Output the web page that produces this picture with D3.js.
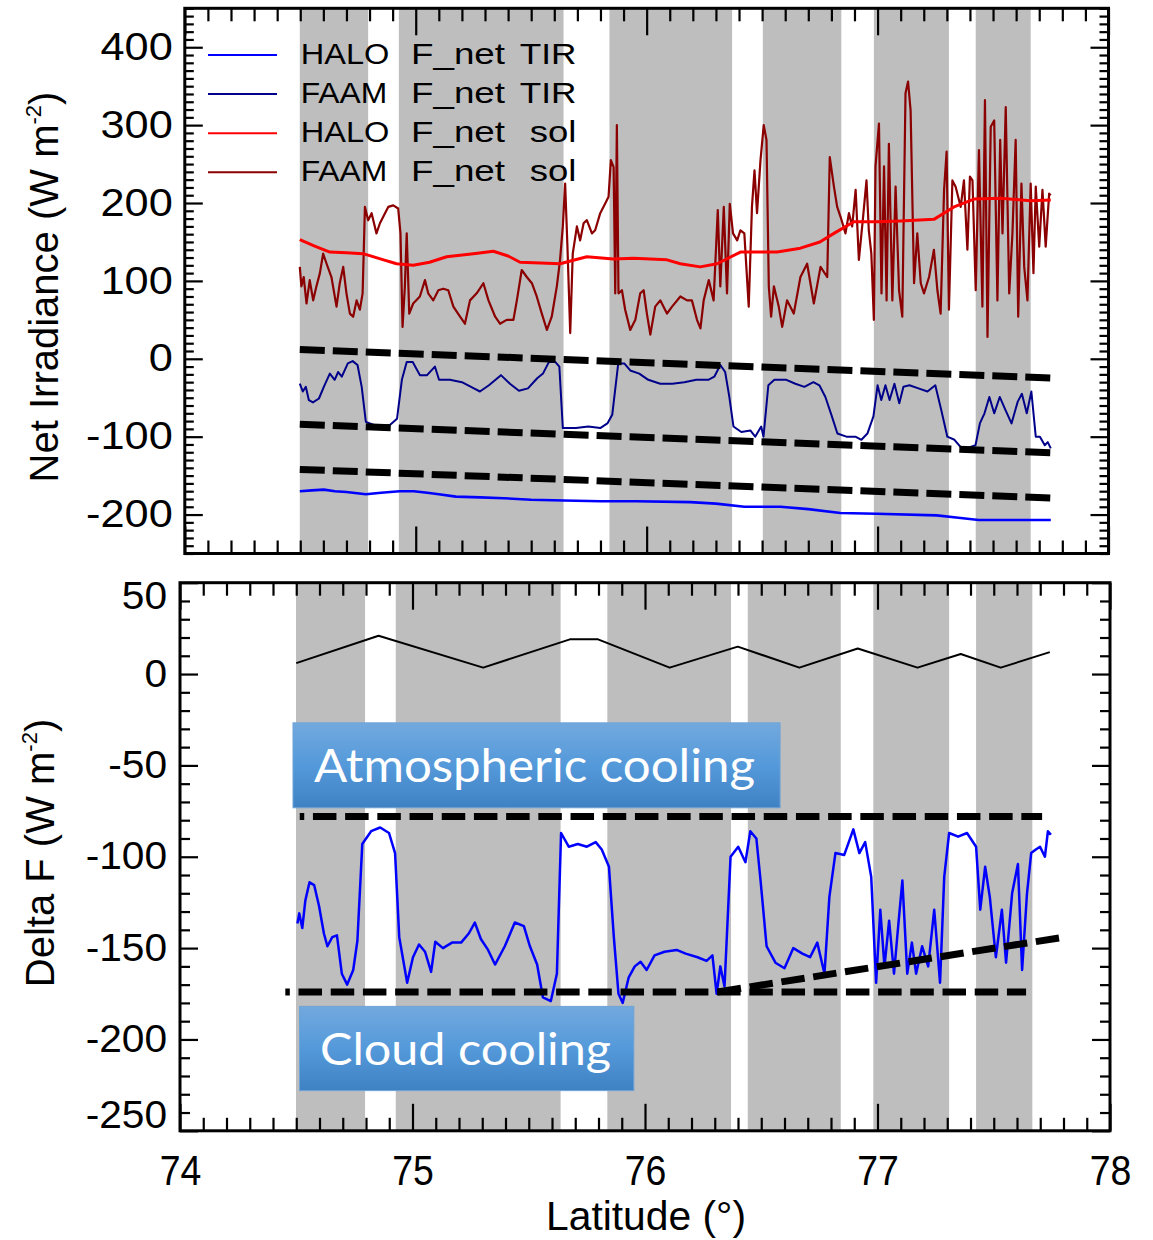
<!DOCTYPE html>
<html><head><meta charset="utf-8">
<script src="https://cdn.jsdelivr.net/npm/d3@7"></script>
<style>body{margin:0;background:#fff}svg{display:block}</style>
</head><body>
<svg id="chart" width="1153" height="1240"></svg>
<script>
// ---------------- DATA ----------------
const xTickLabels = [74, 75, 76, 77, 78];
const topYTickLabels = [-200, -100, 0, 100, 200, 300, 400];
const botYTickLabels = [-250, -200, -150, -100, -50, 0, 50];
const legendLabels = ["HALO F_net TIR", "FAAM F_net TIR", "HALO F_net sol", "FAAM F_net sol"];

// latitude ranges of grey (cloud) bands
const topBands = [[74.498,74.794],[74.927,75.640],[75.839,76.370],[76.503,76.843],[76.984,77.309],[77.425,77.663]];
const botBands = [[74.499,74.796],[74.928,75.637],[75.838,76.370],[76.442,76.842],[76.982,77.308],[77.424,77.666]];

// [latitude, W m-2]
const haloTIR = [[74.498,-170],[74.550,-169],[74.602,-168],[74.650,-170],[74.700,-171],[74.784,-174],[74.850,-172],[74.930,-170],[74.992,-170],[75.050,-172],[75.100,-174],[75.174,-177],[75.280,-178],[75.382,-179],[75.500,-181],[75.642,-182],[75.800,-183],[75.955,-183],[76.189,-184],[76.300,-186],[76.423,-190],[76.579,-190],[76.700,-193],[76.839,-198],[76.996,-199],[77.256,-201],[77.350,-204],[77.438,-207],[77.600,-207],[77.750,-207]];

const faamTIR = [[74.498,-32],[74.511,-42],[74.524,-36],[74.537,-53],[74.555,-56],[74.581,-51],[74.602,-36],[74.628,-19],[74.649,-27],[74.664,-17],[74.680,-23],[74.706,-6],[74.727,-3],[74.748,-8],[74.766,-36],[74.784,-81],[74.836,-87],[74.888,-85],[74.919,-77],[74.940,-27],[74.961,-4],[74.987,-4],[75.018,-21],[75.049,-21],[75.083,-10],[75.101,-27],[75.148,-27],[75.200,-30],[75.252,-38],[75.278,-42],[75.317,-34],[75.369,-21],[75.408,-32],[75.447,-41],[75.486,-38],[75.526,-25],[75.551,-19],[75.577,-4],[75.604,-4],[75.622,-10],[75.637,-89],[75.694,-89],[75.747,-87],[75.799,-89],[75.830,-83],[75.851,-72],[75.877,-6],[75.903,-6],[75.929,-15],[75.968,-19],[76.007,-27],[76.059,-32],[76.111,-32],[76.163,-30],[76.215,-27],[76.267,-27],[76.293,-23],[76.319,-8],[76.340,-17],[76.358,-49],[76.376,-87],[76.410,-94],[76.449,-92],[76.470,-100],[76.496,-87],[76.506,-100],[76.527,-34],[76.553,-27],[76.605,-27],[76.644,-32],[76.683,-36],[76.722,-30],[76.748,-34],[76.774,-49],[76.800,-72],[76.826,-96],[76.865,-100],[76.904,-100],[76.930,-104],[76.956,-96],[76.982,-74],[77.000,-34],[77.016,-53],[77.034,-34],[77.052,-53],[77.073,-32],[77.094,-57],[77.112,-36],[77.138,-34],[77.177,-38],[77.216,-42],[77.250,-34],[77.276,-66],[77.302,-100],[77.333,-104],[77.359,-113],[77.385,-115],[77.424,-111],[77.443,-83],[77.463,-70],[77.484,-49],[77.505,-70],[77.529,-49],[77.554,-66],[77.580,-83],[77.607,-55],[77.625,-45],[77.646,-70],[77.666,-42],[77.685,-100],[77.703,-100],[77.724,-111],[77.737,-107],[77.750,-115]];

const haloSol = [[74.498,153],[74.560,145],[74.628,137],[74.700,136],[74.772,135],[74.850,128],[74.917,122],[74.989,120],[75.060,124],[75.134,131],[75.250,135],[75.336,138],[75.400,132],[75.452,124],[75.540,123],[75.625,122],[75.741,131],[75.856,128],[75.943,129],[76.088,127],[76.146,122],[76.232,118],[76.305,122],[76.406,137],[76.565,137],[76.666,142],[76.750,150],[76.811,161],[76.897,176],[77.000,176],[77.100,177],[77.244,179],[77.331,195],[77.418,205],[77.533,206],[77.663,203],[77.750,204]];

const faamSol = [[74.498,118],[74.505,93],[74.515,105],[74.527,71],[74.541,101],[74.556,75],[74.570,93],[74.585,110],[74.599,135],[74.614,122],[74.635,105],[74.657,67],[74.671,97],[74.686,118],[74.700,84],[74.715,58],[74.729,54],[74.744,75],[74.758,63],[74.770,84],[74.780,195],[74.794,178],[74.809,187],[74.830,161],[74.845,174],[74.867,187],[74.881,195],[74.903,197],[74.924,193],[74.934,161],[74.943,41],[74.953,93],[74.961,161],[74.972,58],[74.989,71],[75.018,80],[75.040,101],[75.054,84],[75.076,75],[75.098,88],[75.119,90],[75.141,88],[75.163,67],[75.192,54],[75.213,45],[75.235,75],[75.264,84],[75.293,97],[75.315,75],[75.344,54],[75.365,45],[75.394,50],[75.423,50],[75.438,75],[75.459,114],[75.481,105],[75.503,97],[75.524,80],[75.546,58],[75.568,37],[75.589,54],[75.611,93],[75.625,127],[75.637,170],[75.647,225],[75.657,144],[75.669,33],[75.680,135],[75.698,170],[75.712,152],[75.727,174],[75.741,178],[75.763,161],[75.777,165],[75.799,187],[75.820,199],[75.835,208],[75.845,255],[75.857,246],[75.864,84],[75.871,300],[75.878,84],[75.893,88],[75.907,63],[75.929,37],[75.951,50],[75.972,84],[75.987,88],[76.001,58],[76.016,31],[76.037,67],[76.059,75],[76.088,58],[76.110,67],[76.146,80],[76.175,75],[76.196,75],[76.218,50],[76.233,39],[76.247,75],[76.269,101],[76.290,75],[76.308,191],[76.319,93],[76.334,195],[76.348,84],[76.360,199],[76.374,161],[76.392,152],[76.406,165],[76.423,161],[76.442,67],[76.456,195],[76.467,242],[76.478,187],[76.493,255],[76.507,300],[76.519,281],[76.529,93],[76.539,54],[76.551,93],[76.572,67],[76.587,41],[76.608,75],[76.637,58],[76.666,105],[76.695,122],[76.724,71],[76.753,118],[76.782,105],[76.793,259],[76.811,221],[76.825,195],[76.840,182],[76.861,161],[76.876,187],[76.890,170],[76.905,217],[76.919,127],[76.936,178],[76.952,229],[76.962,165],[76.973,135],[76.984,50],[76.991,247],[77.006,302],[77.017,84],[77.028,247],[77.039,75],[77.049,276],[77.064,75],[77.078,221],[77.093,88],[77.107,54],[77.121,341],[77.132,356],[77.143,319],[77.158,97],[77.172,161],[77.187,97],[77.201,84],[77.223,105],[77.244,140],[77.259,88],[77.273,58],[77.288,217],[77.299,266],[77.309,63],[77.324,229],[77.338,221],[77.360,195],[77.374,229],[77.389,140],[77.400,234],[77.411,229],[77.425,88],[77.439,268],[77.454,67],[77.465,332],[77.476,28],[77.490,298],[77.505,306],[77.519,75],[77.531,281],[77.541,161],[77.555,323],[77.570,84],[77.584,161],[77.598,281],[77.609,54],[77.623,225],[77.635,118],[77.649,75],[77.663,225],[77.675,110],[77.685,221],[77.700,144],[77.714,217],[77.728,144],[77.743,212],[77.750,210]];

// sloping reference lines in the upper panel [[lat, W m-2],[lat, W m-2]]
const topRefLines = [[[74.498,12],[77.776,-25]], [[74.498,-84],[77.776,-121]], [[74.498,-142],[77.776,-179]]];

// lower panel
const deltaModel = [[74.500,6],[74.854,21],[75.304,3.5],[75.677,19],[75.798,19],[76.106,3.5],[76.399,15],[76.664,3.5],[76.915,14],[77.172,3.5],[77.358,11],[77.530,3.5],[77.741,12]];

const deltaF = [[74.505,-136.5],[74.513,-131],[74.526,-139],[74.539,-124],[74.557,-114],[74.577,-115.5],[74.598,-127],[74.619,-142],[74.634,-149],[74.655,-144],[74.675,-143],[74.696,-164],[74.719,-170],[74.745,-162],[74.763,-146],[74.784,-93],[74.822,-86],[74.861,-84],[74.899,-87],[74.925,-98],[74.943,-144],[74.977,-169],[75.002,-155],[75.028,-148],[75.054,-152],[75.080,-163],[75.098,-146.5],[75.131,-150],[75.170,-147],[75.209,-147],[75.242,-142],[75.268,-136],[75.294,-145],[75.325,-151],[75.355,-159],[75.397,-149],[75.440,-136],[75.479,-138],[75.505,-149],[75.536,-159],[75.561,-177],[75.595,-179],[75.621,-164],[75.639,-87],[75.672,-94.5],[75.711,-93],[75.750,-94.5],[75.788,-92],[75.814,-96],[75.845,-105.5],[75.866,-144],[75.886,-175],[75.904,-180],[75.930,-166],[75.956,-160],[75.981,-157.5],[76.007,-162],[76.041,-154],[76.084,-152],[76.136,-151],[76.175,-153],[76.226,-155],[76.265,-157],[76.290,-154],[76.308,-175],[76.324,-160],[76.342,-171],[76.368,-100],[76.401,-94.5],[76.432,-103],[76.453,-86],[76.479,-90],[76.497,-113],[76.523,-149],[76.561,-158],[76.600,-161],[76.638,-150],[76.677,-153],[76.710,-155],[76.741,-147],[76.772,-164],[76.793,-122],[76.819,-98],[76.857,-99],[76.896,-85],[76.922,-98],[76.947,-92],[76.973,-111],[76.994,-169],[77.012,-129],[77.030,-160],[77.050,-135],[77.071,-164],[77.089,-138],[77.107,-113],[77.128,-164],[77.148,-147],[77.166,-164],[77.192,-149],[77.218,-160],[77.244,-129],[77.269,-169],[77.287,-111],[77.308,-87],[77.347,-89],[77.385,-87],[77.424,-94.5],[77.442,-129],[77.463,-105.5],[77.483,-122],[77.509,-155],[77.535,-129],[77.553,-158],[77.579,-120],[77.604,-104],[77.622,-162],[77.643,-120],[77.661,-98],[77.681,-96],[77.699,-94.5],[77.720,-100],[77.733,-86],[77.746,-88]];

const botRefLines = [[[74.515,-78],[77.708,-78]], [[74.453,-174],[77.639,-174]], [[76.313,-174],[77.802,-144]]];

const annotations = [
  {text: "Atmospheric cooling", lat0: 74.486, lat1: 76.581, v0: -26.7, v1: -73.2},
  {text: "Cloud cooling", lat0: 74.514, lat1: 75.952, v0: -181.9, v1: -228.0}
];

// ---------------- STYLE / LAYOUT ----------------
const FONT = "'Liberation Sans', Arial, Helvetica, sans-serif";
const seriesColors = ["#0000ff", "#00008b", "#ff0000", "#8b0000"];
const GREY = "#bebebe";

const svg = d3.select("#chart");

const xTop = d3.scaleLinear().domain([74, 78]).range([184.8, 1108.5]);
const yTop = d3.scaleLinear().domain([-250, 450]).range([553.5, 8.3]);
const xBot = d3.scaleLinear().domain([74, 78]).range([180, 1110]);
const yBot = d3.scaleLinear().domain([-250, 50]).range([1130.8, 582.7]);

function stretch(sel, f) {
  sel.each(function () {
    const w = this.getComputedTextLength();
    this.setAttribute("textLength", w * f);
    this.setAttribute("lengthAdjust", "spacingAndGlyphs");
  });
}

function bands(g, x, y, data) {
  g.append("g").selectAll("rect").data(data).join("rect")
    .attr("x", d => x(d[0])).attr("width", d => x(d[1]) - x(d[0]))
    .attr("y", y.range()[1]).attr("height", y.range()[0] - y.range()[1])
    .attr("fill", GREY);
}

function line(g, x, y, data, color, width, extra) {
  const p = g.append("path").datum(data)
    .attr("d", d3.line().x(d => x(d[0])).y(d => y(d[1])))
    .attr("fill", "none").attr("stroke", color).attr("stroke-width", width)
    .attr("stroke-linejoin", "round");
  if (extra) extra(p);
  return p;
}

const plainFmt = d => String(d);  // ASCII hyphen-minus like the original

function axes(g, x, y, o) {
  const [x0, x1] = x.range();
  const [yb, yt] = y.range();
  const xMinor = x.ticks(40).filter(v => Math.abs(v - Math.round(v)) > 1e-6);
  const yMinor = y.ticks(o.yMinorCount).filter(v => !o.yMajor.includes(v));
  const add = (tr, ax) => {
    const a = g.append("g").attr("transform", tr).call(ax);
    a.select(".domain").remove();
    a.selectAll("line").attr("stroke-width", 2.2);
    return a;
  };
  add(`translate(0,${yb})`, d3.axisBottom(x).tickValues(xMinor).tickSize(-13).tickFormat(""));
  const bx = add(`translate(0,${yb})`, d3.axisBottom(x).tickValues(xTickLabels).tickSize(-27)
    .tickPadding(o.xPad).tickFormat(o.xLabels ? plainFmt : ""));
  add(`translate(0,${yt})`, d3.axisTop(x).tickValues(xMinor).tickSize(-13).tickFormat(""));
  add(`translate(0,${yt})`, d3.axisTop(x).tickValues(xTickLabels).tickSize(-27).tickFormat(""));
  add(`translate(${x0},0)`, d3.axisLeft(y).tickValues(yMinor).tickSize(-o.yMinorLen).tickFormat(""));
  const ly = add(`translate(${x0},0)`, d3.axisLeft(y).tickValues(o.yMajor).tickSize(-18)
    .tickPadding(o.yPad).tickFormat(plainFmt));
  add(`translate(${x1},0)`, d3.axisRight(y).tickValues(yMinor).tickSize(-o.yMinorLen).tickFormat(""));
  add(`translate(${x1},0)`, d3.axisRight(y).tickValues(o.yMajor).tickSize(-18).tickFormat(""));
  g.append("rect").attr("x", x0).attr("y", yt).attr("width", x1 - x0).attr("height", yb - yt)
    .attr("fill", "none").attr("stroke", "#000").attr("stroke-width", 3);
  ly.selectAll("text").attr("font-family", FONT).attr("font-size", 38).attr("fill", "#000");
  stretch(ly.selectAll("text"), o.yStretch);
  if (o.xLabels) {
    bx.selectAll("text").attr("font-family", FONT).attr("font-size", 43).attr("fill", "#000")
      .attr("dy", null).attr("y", null).attr("transform", "translate(0,54)");
    stretch(bx.selectAll("text"), 0.87);
  }
  return {ly, bx};
}

// ---------------- TOP PANEL ----------------
const gT = svg.append("g");
bands(gT, xTop, yTop, topBands);
line(gT, xTop, yTop, faamTIR, seriesColors[1], 2);
line(gT, xTop, yTop, haloTIR, seriesColors[0], 2.6);
line(gT, xTop, yTop, faamSol, seriesColors[3], 2.2);
line(gT, xTop, yTop, haloSol, seriesColors[2], 3);
topRefLines.forEach(l => line(gT, xTop, yTop, l, "#000", 7, p => p.attr("stroke-dasharray", "25,8")));
axes(gT, xTop, yTop, {yMajor: topYTickLabels, yMinorCount: 70, yMinorLen: 9, yPad: 12, yStretch: 1.14, xLabels: false, xPad: 0});

// legend
const legY0 = 55, legDY = 39.1;
const wordWidths = {"HALO": 88.6, "FAAM": 86.6, "F_net": 94, "TIR": 56.7, "sol": 46.7};
legendLabels.forEach((lab, i) => {
  const y = legY0 + i * legDY;
  gT.append("line").attr("x1", 208).attr("x2", 277).attr("y1", y).attr("y2", y)
    .attr("stroke", seriesColors[i]).attr("stroke-width", 2);
  const words = lab.split(" ");
  const xs = [300.7, 411, 576.5];
  words.forEach((w, j) => {
    gT.append("text").attr("x", xs[j]).attr("y", y + 8.5)
      .attr("text-anchor", j === 2 ? "end" : "start")
      .attr("font-family", FONT).attr("font-size", 30).attr("fill", "#000")
      .attr("textLength", wordWidths[w]).attr("lengthAdjust", "spacingAndGlyphs")
      .text(w);
  });
});

// y title top
const tTop = svg.append("text")
  .attr("transform", "translate(58,287) rotate(-90)")
  .attr("text-anchor", "middle").attr("font-family", FONT).attr("font-size", 40).attr("fill", "#000");
tTop.append("tspan").text("Net Irradiance (W m");
tTop.append("tspan").attr("font-size", 22).attr("dy", -17).text("-2");
tTop.append("tspan").attr("dy", 17).text(")");

// ---------------- BOTTOM PANEL ----------------
const gB = svg.append("g");
bands(gB, xBot, yBot, botBands);
line(gB, xBot, yBot, deltaModel, "#000", 2);
line(gB, xBot, yBot, deltaF, "#0000ff", 2.5);
botRefLines.forEach((l, i) => line(gB, xBot, yBot, l, "#000", 7,
  p => p.attr("stroke-dasharray", "23.5,8.7").attr("stroke-dashoffset", i < 2 ? 19 : 0)));
const bAx = axes(gB, xBot, yBot, {yMajor: botYTickLabels, yMinorCount: 30, yMinorLen: 10, yPad: 13, yStretch: 1.07, xLabels: true, xPad: 0});
bAx.ly.selectAll(".tick text").attr("transform", d => d === 50 ? "translate(0,14)" : d === -250 ? "translate(0,-15)" : null);

// annotation boxes
const defs = svg.append("defs");
const grad = defs.append("linearGradient").attr("id", "boxGrad").attr("x1", 0).attr("y1", 0).attr("x2", 0).attr("y2", 1);
grad.append("stop").attr("offset", "0%").attr("stop-color", "#72a9de");
grad.append("stop").attr("offset", "50%").attr("stop-color", "#5499da");
grad.append("stop").attr("offset", "100%").attr("stop-color", "#3f82c4");
annotations.forEach(a => {
  const x0 = xBot(a.lat0), x1 = xBot(a.lat1), y0 = yBot(a.v0), y1 = yBot(a.v1);
  gB.append("rect").attr("x", x0).attr("y", y0).attr("width", x1 - x0).attr("height", y1 - y0)
    .attr("fill", "url(#boxGrad)").attr("stroke", "#6fa3d6").attr("stroke-width", 1);
});
gB.append("text").attr("x", 314).attr("y", 782).attr("font-family", "Lato, 'Open Sans', sans-serif")
  .attr("font-size", 46).attr("fill", "#fff").attr("textLength", 441).attr("lengthAdjust", "spacingAndGlyphs")
  .text(annotations[0].text);
gB.append("text").attr("x", 320).attr("y", 1065).attr("font-family", "Lato, 'Open Sans', sans-serif")
  .attr("font-size", 44).attr("fill", "#fff").attr("textLength", 291).attr("lengthAdjust", "spacingAndGlyphs")
  .text(annotations[1].text);

// y title bottom
const tBot = svg.append("text")
  .attr("transform", "translate(54,853) rotate(-90)")
  .attr("text-anchor", "middle").attr("font-family", FONT).attr("font-size", 40).attr("fill", "#000");
tBot.append("tspan").text("Delta F (W m");
tBot.append("tspan").attr("font-size", 22).attr("dy", -17).text("-2");
tBot.append("tspan").attr("dy", 17).text(")");

// x title
svg.append("text").attr("x", 646).attr("y", 1230).attr("text-anchor", "middle")
  .attr("font-family", FONT).attr("font-size", 40).attr("fill", "#000")
  .attr("textLength", 200).attr("lengthAdjust", "spacingAndGlyphs")
  .text("Latitude (°)");
</script>
</body></html>
